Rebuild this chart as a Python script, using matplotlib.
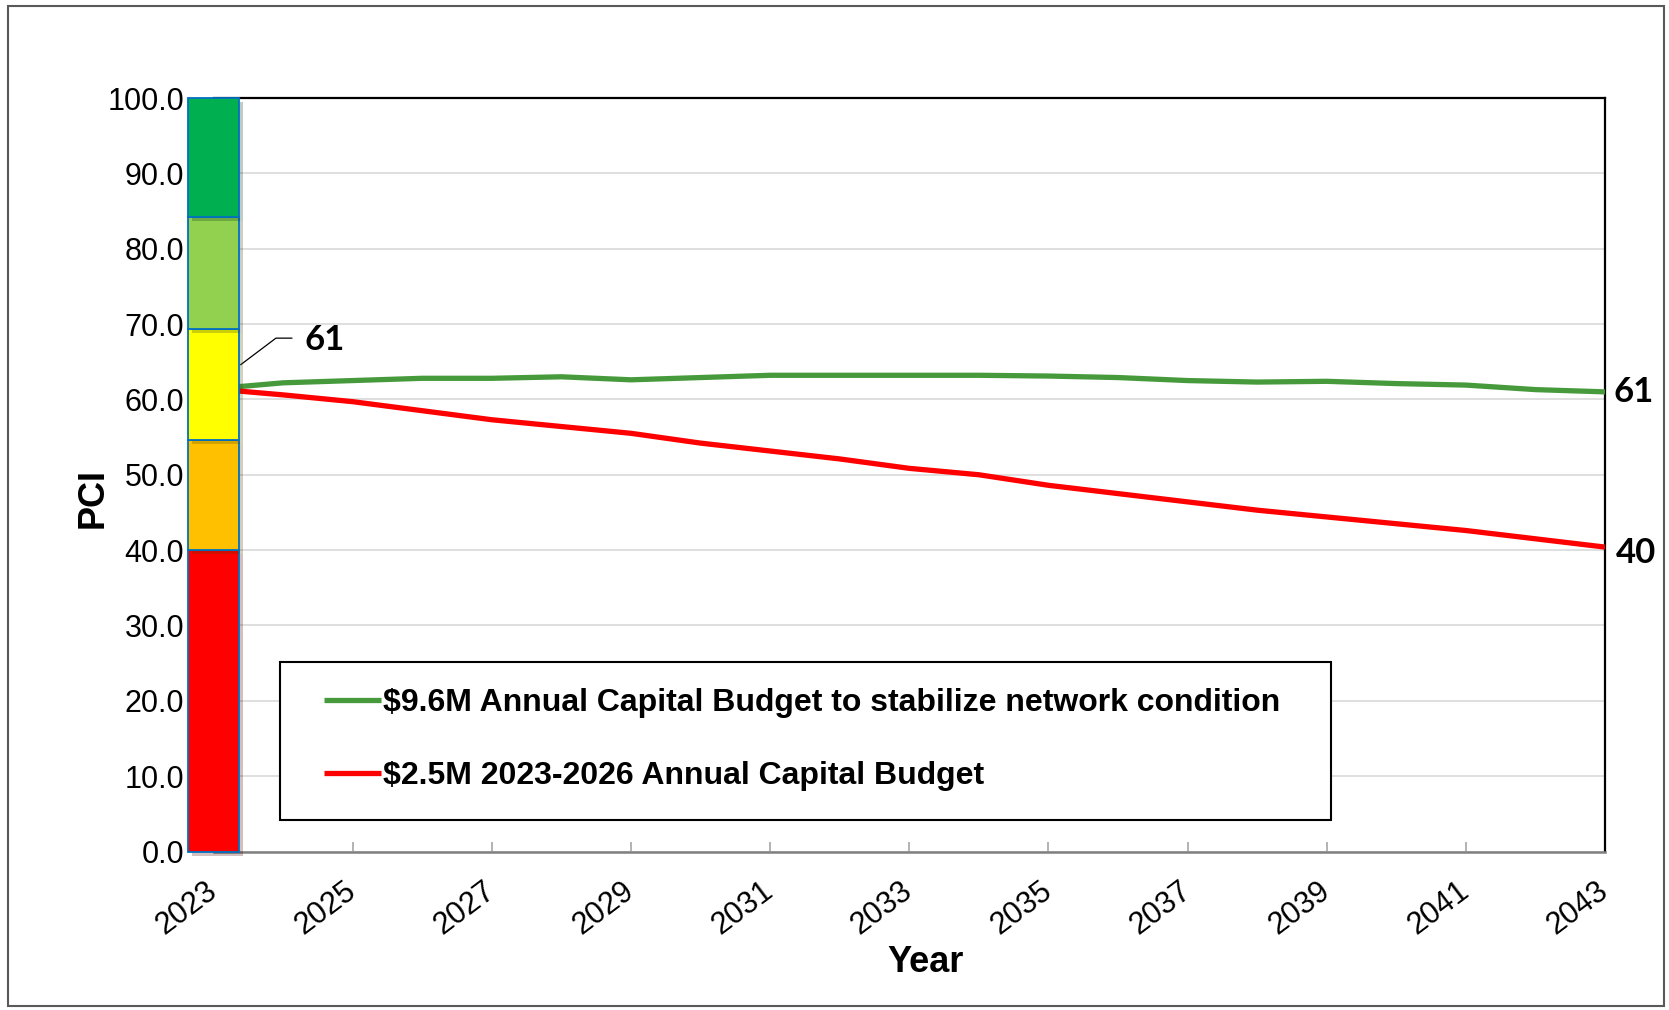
import numpy as np
import matplotlib.pyplot as plt
from matplotlib.patches import Rectangle
import matplotlib.patheffects as pe

plt.rcParams['font.family'] = ['Liberation Sans', 'DejaVu Sans']

# data
years = np.arange(2023, 2044)
pci_stable = [61.4, 62.2, 62.5, 62.8, 62.8, 63.0, 62.6, 62.9, 63.2, 63.2, 63.2,
              63.2, 63.1, 62.9, 62.5, 62.3, 62.4, 62.1, 61.9, 61.3, 61.0]
pci_current = [61.4, 60.6, 59.7, 58.5, 57.3, 56.4, 55.5, 54.2, 53.15, 52.1, 50.85,
               50.0, 48.6, 47.5, 46.4, 45.3, 44.4, 43.5, 42.6, 41.5, 40.4]
series_labels = ["$9.6M Annual Capital Budget to stabilize network condition",
                 "$2.5M 2023-2026 Annual Capital Budget"]
series_colors = ["#469A3C", "#FF0000"]

# PCI condition bands shown as a stacked bar at 2023
band_edges = [0, 40, 54.6, 69.3, 84.2, 100]
band_colors = ["#FF0000", "#FFC000", "#FFFF00", "#92D050", "#00B050"]

W, H = 1669, 1010
fig = plt.figure(figsize=(W / 100, H / 100), dpi=100)
ax = fig.add_axes([213.5 / W, 1 - 851.5 / H, (1605 - 213.5) / W, (851.5 - 98) / H])

# outer chart frame
fig.add_artist(Rectangle((8 / W, 1 - 1006 / H), (1664 - 8) / W, (1006 - 6) / H,
                         transform=fig.transFigure, fill=False, ec="#595959", lw=1.5))

l1, = ax.plot(years, pci_stable, color=series_colors[0], lw=3.8, zorder=4,
              solid_capstyle="butt")
l2, = ax.plot(years, pci_current, color=series_colors[1], lw=3.8, zorder=4,
              solid_capstyle="butt")

bottoms = band_edges[:-1]
heights = np.diff(band_edges)
bars = ax.bar([years[0]] * len(heights), heights, bottom=bottoms, width=0.73,
              color=band_colors, edgecolor="#0070C0", linewidth=1.3, zorder=6)
for b in bars:
    b.set_clip_on(False)
    b.set_path_effects([pe.SimplePatchShadow(offset=(3, -3), alpha=0.25), pe.Normal()])

ax.set_xlim(2023, 2043)
ax.set_ylim(0, 100)

ax.set_yticks(np.arange(0, 101, 10))
ax.set_yticklabels([f"{v:.1f}" for v in np.arange(0, 101, 10)])
ax.tick_params(axis="y", length=0, pad=21, labelsize=22)
ax.grid(axis="y", color="#D9D9D9", lw=1.2, zorder=0)
ax.set_axisbelow(True)

ax.set_xticks(years[::2])
ax.set_xticklabels([str(y) for y in years[::2]], rotation=37, ha="right",
                   va="center", rotation_mode="anchor")
ax.tick_params(axis="x", direction="in", length=7, width=1.2, color="#A6A6A6",
               pad=26, labelsize=22)

ax.spines["left"].set_visible(False)
ax.spines["bottom"].set_color("#808080")
ax.spines["bottom"].set_linewidth(1.8)
for s in ["top", "right"]:
    ax.spines[s].set_color("black")
    ax.spines[s].set_linewidth(1.6)

fig.text(93 / W, 1 - 498 / H, "PCI", rotation=90, ha="center", va="center",
         fontsize=26, fontweight="bold")
fig.text(926 / W, 1 - 963 / H, "Year", ha="center", va="center",
         fontsize=26, fontweight="bold")

# data labels
lab_font = dict(family=["Lato", "DejaVu Sans"], fontweight="bold", fontsize=25)
ax.annotate(f"{pci_stable[0]:.0f}", xy=(2023.39, 64.6), xytext=(46, 18),
            textcoords="offset points", ha="left", va="center", **lab_font,
            arrowprops=dict(arrowstyle="-", color="black", lw=0.9,
                            connectionstyle="angle,angleA=0,angleB=37,rad=0",
                            relpos=(0, 0.55), shrinkA=7, shrinkB=0))
ax.annotate(f"{pci_stable[-1]:.0f}", xy=(years[-1], pci_stable[-1]), xytext=(6, 0),
            textcoords="offset points", ha="left", va="center", **lab_font,
            annotation_clip=False)
ax.annotate(f"{pci_current[-1]:.0f}", xy=(years[-1], pci_current[-1]), xytext=(8, -4),
            textcoords="offset points", ha="left", va="center", **lab_font,
            annotation_clip=False)

# legend with a hand drawn frame
ax.add_patch(Rectangle((0.0478, 0.0418), 0.755, 0.21, transform=ax.transAxes,
                       fc="white", ec="black", lw=1.5, zorder=3))
leg = ax.legend([l1, l2], series_labels, loc="center left",
                bbox_to_anchor=(0.0794, 0.1486), frameon=False, borderpad=0,
                borderaxespad=0, handlelength=1.78, handletextpad=0.06,
                labelspacing=1.33, prop=dict(family="Liberation Sans",
                                             weight="bold", size=23))
leg.set_zorder(7)

fig.savefig("out.png", dpi=100)
